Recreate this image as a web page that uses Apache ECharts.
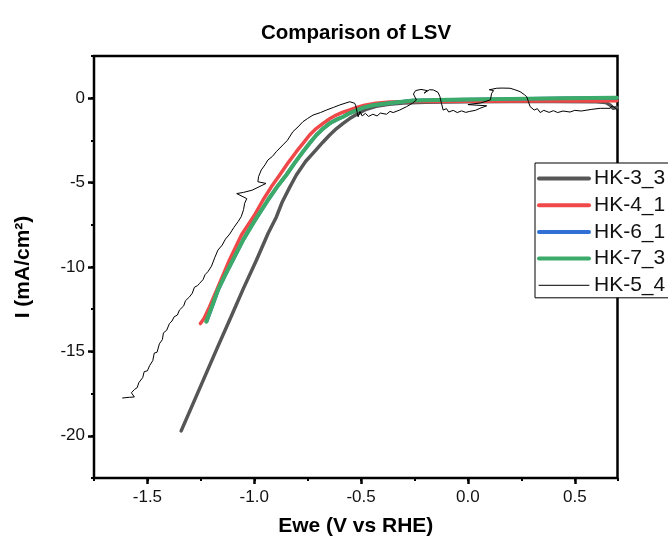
<!DOCTYPE html>
<html>
<head>
<meta charset="utf-8">
<script src="https://cdn.jsdelivr.net/npm/echarts@6/dist/echarts.min.js"></script>
<style>
  html, body { margin: 0; padding: 0; background: #fff; }
  #chart { width: 668px; height: 542px; }
</style>
</head>
<body>
<div id="chart"></div>
<script>
// LSV sweeps: [potential (V vs RHE), current density (mA/cm2)]
const HK_3_3 = [
  [-1.342, -19.71], [-1.29, -18.2], [-1.23, -16.45], [-1.17, -14.7], [-1.106, -12.87],
  [-1.05, -11.25], [-0.99, -9.6], [-0.935, -8.0], [-0.897, -7.05], [-0.869, -6.15],
  [-0.835, -5.3], [-0.803, -4.55], [-0.76, -3.75], [-0.715, -3.12], [-0.68, -2.62],
  [-0.647, -2.18], [-0.615, -1.8], [-0.584, -1.49], [-0.555, -1.22], [-0.52, -0.95],
  [-0.48, -0.68], [-0.43, -0.48], [-0.37, -0.36], [-0.3, -0.28], [-0.2, -0.24],
  [0.0, -0.21], [0.2, -0.2], [0.4, -0.2], [0.6, -0.21], [0.645, -0.25],
  [0.665, -0.4], [0.68, -0.6], [0.697, -0.55]
];
const HK_4_1 = [
  [-1.252, -13.35], [-1.235, -13.05], [-1.209, -12.35], [-1.17, -11.2], [-1.116, -9.58],
  [-1.06, -8.1], [-1.0, -6.95], [-0.959, -6.03], [-0.92, -5.25], [-0.881, -4.55],
  [-0.84, -3.8], [-0.803, -3.17], [-0.77, -2.65], [-0.741, -2.18], [-0.71, -1.8],
  [-0.678, -1.49], [-0.645, -1.2], [-0.616, -1.0], [-0.585, -0.83], [-0.553, -0.7],
  [-0.52, -0.55], [-0.483, -0.42], [-0.43, -0.3], [-0.365, -0.23], [-0.25, -0.2],
  [0.0, -0.18], [0.3, -0.17], [0.6, -0.16], [0.697, -0.15]
];
const HK_6_1 = [
  [-1.222, -13.2], [-1.2, -12.45], [-1.17, -11.4], [-1.135, -10.45], [-1.1, -9.6],
  [-1.05, -8.35], [-1.0, -7.3], [-0.936, -6.05], [-0.89, -5.2], [-0.85, -4.55],
  [-0.81, -3.82], [-0.772, -3.17], [-0.74, -2.65], [-0.709, -2.18], [-0.678, -1.8],
  [-0.647, -1.49], [-0.615, -1.27], [-0.584, -1.1], [-0.552, -0.88], [-0.522, -0.72],
  [-0.49, -0.56], [-0.445, -0.42], [-0.381, -0.31], [-0.319, -0.22], [-0.257, -0.14],
  [-0.15, -0.1], [0.0, -0.08], [0.2, -0.04], [0.45, 0.0], [0.697, 0.02]
];
const HK_7_3 = [
  [-1.225, -13.24], [-1.2, -12.4], [-1.17, -11.36], [-1.135, -10.45], [-1.1, -9.58],
  [-1.05, -8.35], [-1.0, -7.3], [-0.936, -6.03], [-0.89, -5.2], [-0.85, -4.55],
  [-0.81, -3.82], [-0.772, -3.17], [-0.74, -2.65], [-0.709, -2.18], [-0.678, -1.8],
  [-0.647, -1.49], [-0.615, -1.27], [-0.584, -1.1], [-0.552, -0.88], [-0.522, -0.72],
  [-0.49, -0.56], [-0.445, -0.42], [-0.381, -0.31], [-0.319, -0.22], [-0.257, -0.14],
  [-0.15, -0.1], [0.0, -0.08], [0.2, -0.04], [0.45, 0.0], [0.697, 0.02]
];
const HK_5_4 = [
  [-1.616, -17.76], [-1.585, -17.72], [-1.561, -17.7], [-1.575, -17.45], [-1.56, -17.25],
  [-1.548, -17.15], [-1.54, -16.85], [-1.522, -16.55], [-1.515, -16.2], [-1.5, -16.15],
  [-1.49, -15.85], [-1.475, -15.55], [-1.468, -15.1], [-1.455, -15.05], [-1.444, -14.55],
  [-1.43, -14.3], [-1.425, -13.9], [-1.41, -13.75], [-1.397, -13.35], [-1.385, -13.2],
  [-1.375, -12.95], [-1.36, -12.85], [-1.35, -12.55], [-1.33, -12.3], [-1.322, -12.0],
  [-1.303, -11.77], [-1.29, -11.55], [-1.28, -11.2], [-1.265, -11.1], [-1.256, -10.97],
  [-1.24, -10.75], [-1.23, -10.45], [-1.217, -10.28], [-1.2, -9.95], [-1.185, -9.45],
  [-1.17, -9.0], [-1.15, -8.7], [-1.135, -8.35], [-1.115, -8.05], [-1.095, -7.65],
  [-1.075, -7.3], [-1.061, -7.02], [-1.05, -6.6], [-1.045, -6.23], [-1.035, -5.95],
  [-1.082, -5.65], [-1.05, -5.58], [-1.01, -5.45], [-0.945, -5.05], [-0.983, -4.95],
  [-0.98, -4.65], [-0.967, -4.25], [-0.95, -3.95], [-0.936, -3.66], [-0.915, -3.45],
  [-0.897, -3.17], [-0.866, -2.77], [-0.845, -2.5], [-0.819, -1.98], [-0.795, -1.7],
  [-0.772, -1.39], [-0.75, -1.2], [-0.725, -1.0], [-0.69, -0.85], [-0.662, -0.7],
  [-0.63, -0.55], [-0.6, -0.4], [-0.575, -0.3], [-0.553, -0.21], [-0.53, -0.3],
  [-0.525, -0.45], [-0.514, -1.1], [-0.505, -0.8], [-0.495, -1.05], [-0.48, -0.9],
  [-0.465, -1.08], [-0.445, -0.95], [-0.425, -1.05], [-0.41, -0.88], [-0.381, -0.95],
  [-0.365, -0.78], [-0.35, -0.85], [-0.319, -0.7], [-0.287, -0.5], [-0.26, -0.3],
  [-0.241, -0.11], [-0.255, 0.25], [-0.245, 0.45], [-0.22, 0.52], [-0.19, 0.45],
  [-0.205, 0.3], [-0.18, 0.5], [-0.162, 0.49], [-0.14, 0.35], [-0.131, 0.09],
  [-0.124, -0.3], [-0.116, -0.7], [-0.1, -0.62], [-0.09, -0.82], [-0.069, -0.72],
  [-0.05, -0.85], [-0.03, -0.75], [-0.01, -0.84], [0.009, -0.78], [0.035, -0.72],
  [0.056, -0.6], [0.088, -0.45], [0.0, -0.38], [0.06, -0.28], [0.105, -0.1],
  [0.111, 0.29], [0.12, 0.45], [0.1, 0.5], [0.135, 0.59], [0.16, 0.6],
  [0.197, 0.59], [0.22, 0.5], [0.244, 0.39], [0.265, 0.2], [0.275, 0.09],
  [0.283, -0.2], [0.291, -0.5], [0.31, -0.7], [0.325, -0.62], [0.338, -0.85],
  [0.355, -0.72], [0.38, -0.84], [0.4, -0.74], [0.42, -0.85], [0.445, -0.76],
  [0.478, -0.82], [0.5, -0.72], [0.53, -0.76], [0.58, -0.66], [0.619, -0.6],
  [0.666, -0.6], [0.675, -0.45], [0.697, -0.66]
];

const seriesNames = ['HK-3_3', 'HK-4_1', 'HK-6_1', 'HK-7_3', 'HK-5_4'];
const seriesColors = ['#565656', '#f04848', '#2f6fd6', '#3caa68', '#000000'];
const seriesWidths = [3.5, 3.5, 3.5, 4, 1];
const seriesData = [HK_3_3, HK_4_1, HK_6_1, HK_7_3, HK_5_4];

const xTicks = [-1.5, -1.0, -0.5, 0.0, 0.5];
const yTicks = [-20, -15, -10, -5, 0];

const FONT = '"Liberation Sans", Arial, sans-serif';
const X_MIN = -1.75, X_MAX = 0.7;
const Y_MIN = -22.5, Y_MAX = 2.5;

const chart = echarts.init(document.getElementById('chart'), null, { renderer: 'canvas' });

// short ticks every half step, no labels
const minorAxis = (min, max, interval, position) => ({
  type: 'value', min, max, interval, position,
  axisLine: { show: false, onZero: false },
  axisTick: { show: true, length: 3, lineStyle: { color: '#000', width: 2 } },
  axisLabel: { show: false },
  splitLine: { show: false }
});

chart.setOption({
  animation: false,
  textStyle: { fontFamily: FONT },
  graphic: [{
    type: 'text', x: 356, y: 33, z: 10,
    style: {
      text: 'Comparison of LSV', font: 'bold 20.5px ' + FONT, fill: '#000',
      align: 'center', verticalAlign: 'middle', textAlign: 'center', textVerticalAlign: 'middle'
    }
  }],
  grid: {
    left: 94, right: 50.5, top: 56, bottom: 63,
    show: true, borderColor: '#000', borderWidth: 2.5, backgroundColor: 'transparent'
  },
  xAxis: [
    minorAxis(X_MIN, X_MAX, 0.25, 'bottom'),
    {
      type: 'value', min: X_MIN, max: X_MAX, position: 'bottom',
      axisLine: { show: false, onZero: false },
      axisTick: { show: true, customValues: xTicks, length: 6, lineStyle: { color: '#000', width: 2.5 } },
      axisLabel: { customValues: xTicks, formatter: v => v.toFixed(1), fontSize: 17, color: '#111', margin: 11 },
      splitLine: { show: false },
      name: 'Ewe (V vs RHE)', nameLocation: 'middle', nameGap: 38,
      nameTextStyle: { fontSize: 21, fontWeight: 'bold', color: '#000' }
    }
  ],
  yAxis: [
    minorAxis(Y_MIN, Y_MAX, 2.5, 'left'),
    {
      type: 'value', min: Y_MIN, max: Y_MAX, position: 'left',
      axisLine: { show: false, onZero: false },
      axisTick: { show: true, customValues: yTicks, length: 6, lineStyle: { color: '#000', width: 2.5 } },
      axisLabel: { customValues: yTicks, fontSize: 17, color: '#111', margin: 9 },
      splitLine: { show: false },
      name: 'I (mA/cm²)', nameLocation: 'middle', nameGap: 60,
      nameTextStyle: { fontSize: 21, fontWeight: 'bold', color: '#000' }
    }
  ],
  legend: {
    orient: 'vertical', left: 535, top: 163,
    backgroundColor: '#fff', borderColor: '#000', borderWidth: 1, borderRadius: 0,
    padding: [5, 20, 2, 2], itemGap: 5.7, itemWidth: 50, itemHeight: 14,
    selectedMode: false,
    textStyle: { fontSize: 21, color: '#111', fontFamily: FONT },
    itemStyle: { color: 'rgba(0,0,0,0)', borderColor: 'rgba(0,0,0,0)', borderWidth: 0, opacity: 0 },
    data: seriesNames.map((n, i) => ({ name: n, lineStyle: { width: i === 4 ? 1 : 4 } }))
  },
  series: seriesNames.map((n, i) => ({
    name: n, type: 'line', xAxisIndex: 0, yAxisIndex: 0,
    data: seriesData[i], symbol: 'none', showSymbol: false,
    lineStyle: { color: seriesColors[i], width: seriesWidths[i], join: 'round', cap: 'round' },
    itemStyle: { color: seriesColors[i] },
    emphasis: { disabled: true }
  }))
});
</script>
</body>
</html>
